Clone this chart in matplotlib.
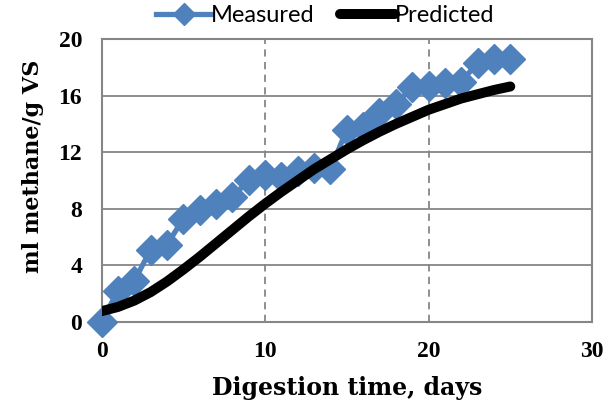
import numpy as np
import matplotlib.pyplot as plt

# cumulative methane yield [ml methane / g VS] vs digestion time [days]
days = np.arange(0, 26)
measured = [0.0, 2.2, 2.9, 5.1, 5.45, 7.3, 7.9, 8.3, 8.8, 10.05,
            10.4, 10.25, 10.65, 10.9, 10.8, 13.6, 13.75, 14.8, 15.4, 16.6,
            16.7, 16.9, 17.0, 18.3, 18.6, 18.6]
predicted = [0.75, 1.05, 1.5, 2.1, 2.85, 3.7, 4.6, 5.55, 6.5, 7.45,
             8.35, 9.2, 10.0, 10.8, 11.5, 12.2, 12.85, 13.45, 14.0, 14.5,
             15.0, 15.4, 15.8, 16.1, 16.4, 16.65]
xticks = [0, 10, 20, 30]
yticks = [0, 4, 8, 12, 16, 20]

blue = '#4F81BD'
grey = '#868686'

fig = plt.figure(figsize=(6.16, 4.12), dpi=100)
ax = fig.add_axes([0.165, 0.219, 0.796, 0.686])

ax.plot(days, measured, '-D', color=blue, lw=3.8, ms=15,
        label='Measured', clip_on=False, zorder=3)
ax.plot(days, predicted, '-', color='k', lw=7.2, solid_capstyle='round',
        solid_joinstyle='round', label='Predicted', zorder=4)

ax.set_xlim(0, 30)
ax.set_ylim(0, 20)
ax.set_xticks(xticks)
ax.set_yticks(yticks)
ax.tick_params(length=0, pad=14)
for lab in ax.get_xticklabels() + ax.get_yticklabels():
    lab.set_fontfamily('Liberation Serif')
    lab.set_fontweight('bold')
    lab.set_fontsize(17)

# horizontal grid solid, vertical grid dashed
ax.yaxis.grid(True, color=grey, lw=1.3, ls='-')
ax.xaxis.grid(True, color=grey, lw=1.3, ls=(0, (4, 3)))
ax.set_axisbelow(True)
for s in ax.spines.values():
    s.set_color(grey)
    s.set_linewidth(1.5)

ax.set_xlabel('Digestion time, days', family='DejaVu Serif',
              fontweight='bold', fontsize=17, labelpad=10)
ax.set_ylabel('ml methane/g VS', family='DejaVu Serif',
              fontweight='bold', fontsize=16)
ax.yaxis.set_label_coords(-0.118, 0.55)

fig.legend(loc='upper center', bbox_to_anchor=(0.528, 1.04), ncol=2,
           frameon=False, prop={'family': 'Lato', 'size': 17},
           handlelength=2.3, handletextpad=0.0, columnspacing=1.1,
           markerscale=0.75)

fig.savefig('out.png', dpi=100)
